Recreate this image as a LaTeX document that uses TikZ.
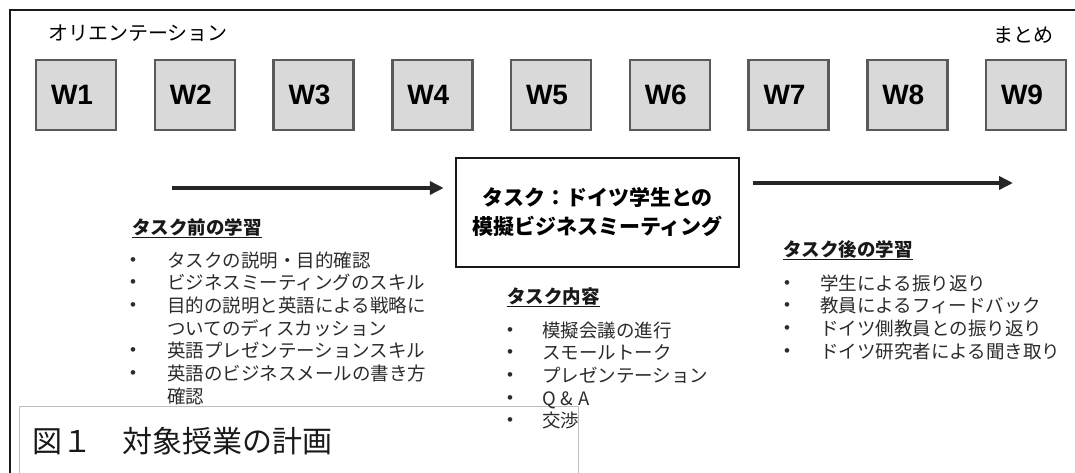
\documentclass[tikz,border=0pt]{standalone}
\usepackage{fontspec}
\setmainfont{Liberation Sans}
\newfontfamily\jp{Noto Sans CJK JP}
\usetikzlibrary{arrows.meta}
\definecolor{wfill}{HTML}{D9D9D9}
\definecolor{wdraw}{HTML}{5A5A5A}
\definecolor{bodytext}{HTML}{2B2B2B}
\newcommand\bul{\raisebox{2pt}{\rmfamily\fontsize{17}{17}\selectfont •}}
\tikzset{
  wbox/.style={draw=wdraw, line width=2.5pt, fill=wfill, minimum width=80pt, minimum height=70pt, inner sep=0pt,
    font=\rmfamily\bfseries\fontsize{28}{28}\selectfont},
  toplabel/.style={font=\jp\fontsize{20}{20}\selectfont, inner sep=0pt},
  arr/.style={line width=4pt, draw=black!85, -{Triangle[length=14pt,width=13pt]}},
  head/.style={font=\jp\bfseries\fontsize{18.5}{18.5}\selectfont, inner sep=0pt, anchor=west, text=black!90},
  lst/.style={font=\jp\fontsize{18.5}{22.7}\selectfont, inner sep=0pt, anchor=north west, text=bodytext},
  taskbox/.style={draw=black!90, line width=2.5pt, minimum width=283pt, minimum height=109pt, align=center,
    font=\jp\bfseries\fontsize{21}{29}\selectfont, inner sep=0pt},
}
\newcommand\wlab[1]{\raisebox{-4pt}{\makebox[50pt][l]{#1}}}
\begin{document}
\begin{tikzpicture}[x=1pt,y=-1pt]
\useasboundingbox (0,0) rectangle (1075,473);
% frame
\draw[line width=2pt, black!90] (10,473) -- (10,10) -- (1075,10);
% caption box
\draw[line width=1pt, black!25] (19,473) -- (19,406) -- (578,406) -- (578,473);
\node[font=\jp\fontsize{30}{30}\selectfont, anchor=west, inner sep=0pt, text=black!90] (cap) at (32,441) {図１　対象授業の計画};
% top labels
\node[toplabel, anchor=west] (ori) at (48,33) {オリエンテーション};
\node[toplabel, anchor=west] (mat) at (993,35) {まとめ};
% week boxes
\foreach \i in {1,...,9}{
  \node[wbox] (w\i) at ({76+118.75*(\i-1)},95) {\wlab{W\i}};
}
% task box
\node[taskbox] (task) at (597.5,212.5) {タスク：ドイツ学生との\\模擬ビジネスミーティング};
% arrows
\coordinate (a1s) at (172,188);
\draw[arr, shorten >=11pt] (a1s) -- (a1s -| task.west);
\coordinate (a2e) at (1013,183);
\draw[arr, shorten <=13pt] (a2e -| task.east) -- (a2e);
% pre-task
\node[head] (h1) at (132,228) {\underline{タスク前の学習}};
\node[lst] (l1) at (130,251) {\begin{tabular}{@{}p{37pt}@{}l@{}}
\bul & タスクの説明・目的確認\\
\bul & ビジネスミーティングのスキル\\
\bul & 目的の説明と英語による戦略に\\
 & ついてのディスカッション\\
\bul & 英語プレゼンテーションスキル\\
\bul & 英語のビジネスメールの書き方\\
 & 確認
\end{tabular}};
% task content
\node[head] (h2) at (507,297) {\underline{タスク内容}};
\node[lst] (l2) at (507,321) {\begin{tabular}{@{}p{35pt}@{}l@{}}
\bul & 模擬会議の進行\\
\bul & スモールトーク\\
\bul & プレゼンテーション\\
\bul & Q\kern5pt\&\kern5pt A\\
\bul & 交渉
\end{tabular}};
% post-task
\node[head] (h3) at (783,250) {\underline{タスク後の学習}};
\node[lst] (l3) at (784,274) {\begin{tabular}{@{}p{36pt}@{}l@{}}
\bul & 学生による振り返り\\
\bul & 教員によるフィードバック\\
\bul & ドイツ側教員との振り返り\\
\bul & ドイツ研究者による聞き取り
\end{tabular}};
\end{tikzpicture}
\end{document}
